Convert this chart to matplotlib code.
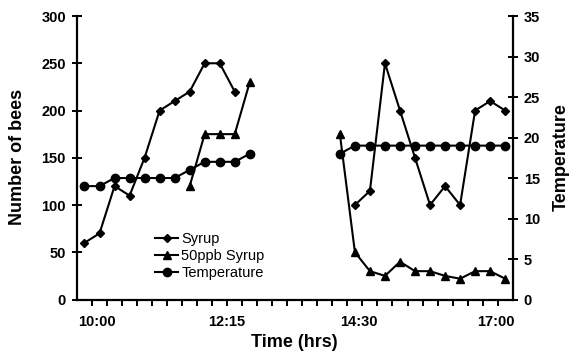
import numpy as np
import matplotlib
matplotlib.use("Agg")
import matplotlib.pyplot as plt

plt.rcParams['font.family'] = ['Liberation Sans', 'DejaVu Sans']

# 15-minute slots from 10:00 to 17:00 (29 categories)
times = ["10:00", "10:15", "10:30", "10:45", "11:00", "11:15", "11:30", "11:45",
         "12:00", "12:15", "12:30", "12:45", "13:00", "13:15", "13:30", "13:45",
         "14:00", "14:15", "14:30", "14:45", "15:00", "15:15", "15:30", "15:45",
         "16:00", "16:15", "16:30", "16:45", "17:00"]
nan = np.nan
syrup = [60, 70, 120, 110, 150, 200, 210, 220, 250, 250, 220, nan,
         nan, nan, nan, nan, nan, nan,
         100, 115, 250, 200, 150, 100, 120, 100, 200, 210, 200]
syrup_50ppb = [nan, nan, nan, nan, nan, nan, nan, 120, 175, 175, 175, 230,
               nan, nan, nan, nan, nan,
               175, 50, 30, 25, 40, 30, 30, 25, 22, 30, 30, 22]
temperature = [14, 14, 15, 15, 15, 15, 15, 16, 17, 17, 17, 18,
               nan, nan, nan, nan, nan,
               18, 19, 19, 19, 19, 19, 19, 19, 19, 19, 19, 19]

tick_labels = ["10:00", "12:15", "14:30", "17:00"]
tick_label_pos = [0.85, 9.45, 18.25, 27.4]

x = np.arange(len(times))

fig = plt.figure(figsize=(5.69, 3.52), dpi=100)
ax = fig.add_axes([0.1353, 0.1491, 0.7657, 0.8054])
ax2 = ax.twinx()

lw = 1.5
h1, = ax.plot(x, syrup, color='black', lw=lw, marker='D', ms=4.5, label='Syrup')
h2, = ax.plot(x, syrup_50ppb, color='black', lw=lw, marker='^', ms=6, label='50ppb Syrup')
h3, = ax2.plot(x, temperature, color='black', lw=lw, marker='o', ms=6, label='Temperature')

ax.set_xlim(-0.5, len(times) - 0.5)
ax.set_ylim(0, 300)
ax2.set_ylim(0, 35)

ax.set_yticks(np.arange(0, 301, 50))
ax2.set_yticks(np.arange(0, 36, 5))

ax.set_xticks(tick_label_pos)
ax.set_xticklabels(tick_labels)
ax.set_xticks(np.arange(0.5, len(times) - 1, 1), minor=True)

for a in (ax, ax2):
    a.spines['top'].set_visible(False)
    for s in a.spines.values():
        s.set_linewidth(1.6)
        s.set_color('black')
ax.spines['right'].set_visible(False)
ax2.spines['left'].set_visible(False)
ax2.spines['bottom'].set_visible(False)

ax.tick_params(axis='x', which='major', length=0, pad=11, labelsize=10.5)
ax.tick_params(axis='x', which='minor', direction='out', length=4, width=1.4)
ax.tick_params(axis='y', direction='inout', length=7, width=1.4, pad=4.5, labelsize=10.5)
ax2.tick_params(axis='y', direction='inout', length=7, width=1.4, pad=4.5, labelsize=10.5)

for lab in ax.get_xticklabels() + ax.get_yticklabels() + ax2.get_yticklabels():
    lab.set_fontweight('bold')

fig.text(0.0299, 0.554, "Number of bees", rotation=90, ha='center', va='center',
         fontsize=13, fontweight='bold')
fig.text(0.9860, 0.554, "Temperature", rotation=90, ha='center', va='center',
         fontsize=13, fontweight='bold')
fig.text(0.5167, 0.027, "Time (hrs)", ha='center', va='center',
         fontsize=13, fontweight='bold')

ax2.legend([h1, h2, h3], ['Syrup', '50ppb Syrup', 'Temperature'],
           loc='upper left', bbox_to_anchor=(0.2724, 0.3410),
           bbox_transform=fig.transFigure, frameon=False, borderpad=0,
           borderaxespad=0, handlelength=1.6, handletextpad=0.2,
           labelspacing=0.2, fontsize=10.5)

fig.savefig("out.png", dpi=100)
